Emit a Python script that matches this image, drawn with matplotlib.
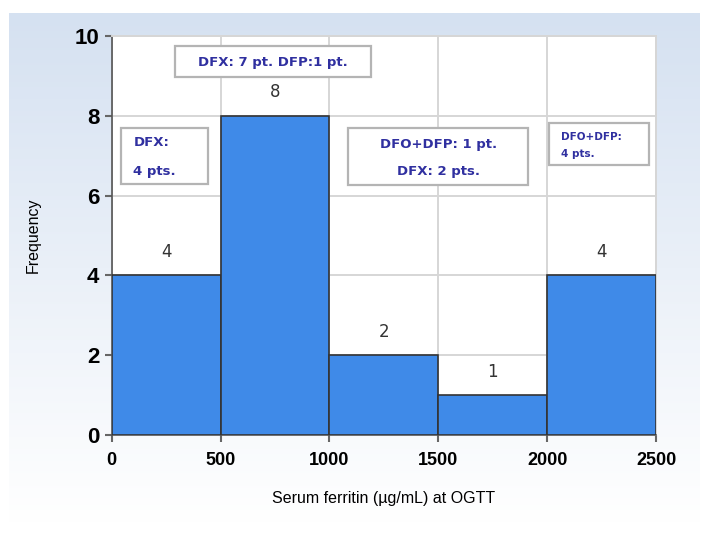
import numpy as np
import matplotlib.pyplot as plt
from matplotlib.patches import Rectangle
from matplotlib.colors import LinearSegmentedColormap

# Histogram data
bin_edges = [0, 500, 1000, 1500, 2000, 2500]
counts = [4, 8, 2, 1, 4]

# Annotation texts
note_lines = [
    ["DFX: 7 pt. DFP:1 pt."],
    ["DFX:", "4 pts."],
    ["DFO+DFP: 1 pt.", "DFX: 2 pts."],
    ["DFO+DFP:", "4 pts."],
]
# box extents (x0, x1, y0, y1), line y positions, text x, alignment, size
note_layout = [
    ((289, 1189, 8.97, 9.74), [9.32], 740, "center", 9.5),
    ((44, 444, 6.30, 7.70), [7.34, 6.59], 100, "left", 9.5),
    ((1084, 1912, 6.26, 7.70), [7.28, 6.59], 1500, "center", 9.5),
    ((2009, 2468, 6.76, 7.82), [7.47, 7.03], 2062, "left", 7.5),
]

fig = plt.figure(figsize=(7.07, 5.34), dpi=100)

# gradient panel behind the chart
bg = fig.add_axes([0.013, 0.02, 0.977, 0.955], zorder=-10)
grad = np.linspace(0, 1, 256).reshape(-1, 1)
cmap = LinearSegmentedColormap.from_list("bg", ["#d5e1f1", "#ffffff"])
bg.imshow(grad, aspect="auto", cmap=cmap, extent=[0, 1, 0, 1])
bg.axis("off")

ax = fig.add_axes([0.158, 0.185, 0.77, 0.748])
ax.set_facecolor("white")

widths = np.diff(bin_edges)
ax.bar(bin_edges[:-1], counts, width=widths, align="edge",
       color="#3f8ae8", edgecolor="#333333", linewidth=1.2, zorder=3)

for left, w, c in zip(bin_edges[:-1], widths, counts):
    ax.text(left + w / 2, c + 0.58, str(c), ha="center", va="center",
            fontsize=12, color="#333333", zorder=4)

for lines, (box, ys, tx, ha, fs) in zip(note_lines, note_layout):
    x0, x1, y0, y1 = box
    ax.add_patch(Rectangle((x0, y0), x1 - x0, y1 - y0, facecolor="white",
                           edgecolor="#b4b4b4", linewidth=1.6, zorder=5))
    for line, y in zip(lines, ys):
        ax.text(tx, y, line, ha=ha, va="center", fontsize=fs, fontweight="bold",
                color="#3030a0", zorder=6)

ax.set_xlim(0, 2500)
ax.set_ylim(0, 10)
ax.set_xticks(bin_edges)
ax.set_yticks([0, 2, 4, 6, 8, 10])
ax.grid(True, color="#d6d6d6", linewidth=1.4, zorder=0)
ax.set_axisbelow(True)

for s in ["top", "right"]:
    ax.spines[s].set_color("#d6d6d6")
    ax.spines[s].set_linewidth(1.4)
for s in ["left", "bottom"]:
    ax.spines[s].set_color("#555555")
    ax.spines[s].set_linewidth(1.2)

ax.tick_params(axis="y", labelsize=16, length=5, width=1.5, color="#666666", pad=4)
ax.tick_params(axis="x", labelsize=13, length=5, width=1.5, color="#666666", pad=7)
for lab in ax.get_xticklabels() + ax.get_yticklabels():
    lab.set_fontweight("bold")
    lab.set_family(["Liberation Sans", "DejaVu Sans"])

ax.set_ylabel("Frequency", fontsize=11.5, labelpad=24,
              family=["Liberation Sans", "DejaVu Sans"])
ax.set_xlabel("Serum ferritin (\u00b5g/mL) at OGTT", fontsize=11.5, labelpad=16,
              family=["Liberation Sans", "DejaVu Sans"])

fig.savefig("out.png", dpi=100)
